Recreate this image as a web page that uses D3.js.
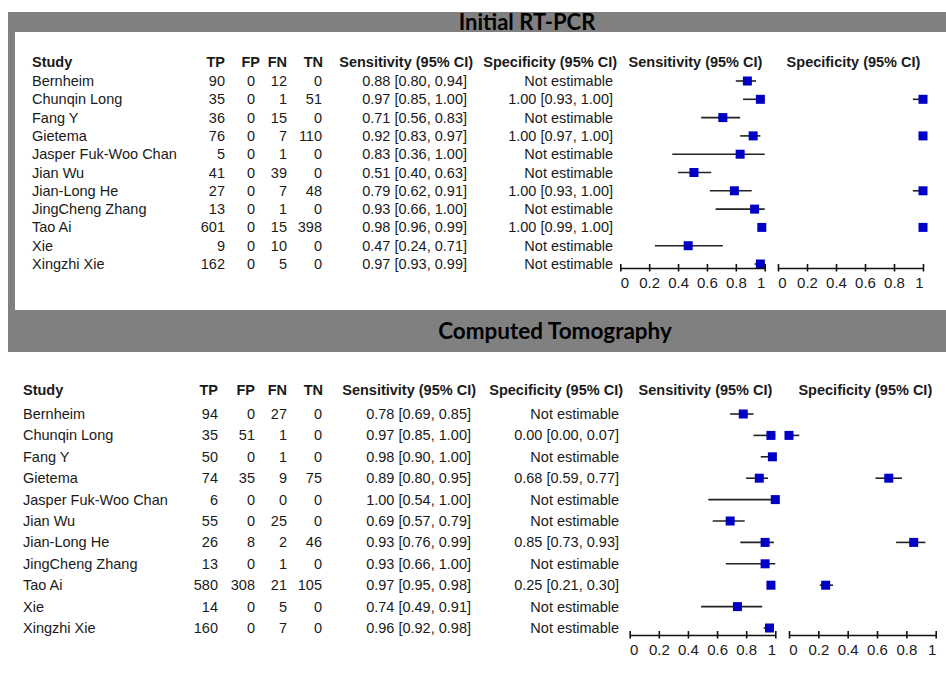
<!DOCTYPE html>
<html>
<head>
<meta charset="utf-8">
<script src="https://cdn.jsdelivr.net/npm/d3@7"></script>
<style>
  body { margin: 0; background: #fff; }
  text { font-family: "Liberation Sans", Arial, sans-serif; fill: #1a1a1a; }
  .head { font-weight: bold; }
  .title { font-family: Lato, "Open Sans", sans-serif; font-weight: bold; fill: #000; }
</style>
</head>
<body>
<div id="chart"></div>
<script>
const width = 946, height = 684;

// studies (same for both panels)
const studies = ["Bernheim", "Chunqin Long", "Fang Y", "Gietema", "Jasper Fuk-Woo Chan", "Jian Wu",
  "Jian-Long He", "JingCheng Zhang", "Tao Ai", "Xie", "Xingzhi Xie"];

const headers = ["TP", "FP", "FN", "TN", "Sensitivity (95% CI)", "Specificity (95% CI)"];
const tickVals = [0, 0.2, 0.4, 0.6, 0.8, 1];

// Initial RT-PCR
const pcrTP = [90, 35, 36, 76, 5, 41, 27, 13, 601, 9, 162];
const pcrFP = [0, 0, 0, 0, 0, 0, 0, 0, 0, 0, 0];
const pcrFN = [12, 1, 15, 7, 1, 39, 7, 1, 15, 10, 5];
const pcrTN = [0, 51, 0, 110, 0, 0, 48, 0, 398, 0, 0];
const pcrSens = [[0.88, 0.80, 0.94], [0.97, 0.85, 1.00], [0.71, 0.56, 0.83], [0.92, 0.83, 0.97],
  [0.83, 0.36, 1.00], [0.51, 0.40, 0.63], [0.79, 0.62, 0.91], [0.93, 0.66, 1.00],
  [0.98, 0.96, 0.99], [0.47, 0.24, 0.71], [0.97, 0.93, 0.99]];
const pcrSpec = [null, [1.00, 0.93, 1.00], null, [1.00, 0.97, 1.00], null, null,
  [1.00, 0.93, 1.00], null, [1.00, 0.99, 1.00], null, null];

// Computed Tomography
const ctTP = [94, 35, 50, 74, 6, 55, 26, 13, 580, 14, 160];
const ctFP = [0, 51, 0, 35, 0, 0, 8, 0, 308, 0, 0];
const ctFN = [27, 1, 1, 9, 0, 25, 2, 1, 21, 5, 7];
const ctTN = [0, 0, 0, 75, 0, 0, 46, 0, 105, 0, 0];
const ctSens = [[0.78, 0.69, 0.85], [0.97, 0.85, 1.00], [0.98, 0.90, 1.00], [0.89, 0.80, 0.95],
  [1.00, 0.54, 1.00], [0.69, 0.57, 0.79], [0.93, 0.76, 0.99], [0.93, 0.66, 1.00],
  [0.97, 0.95, 0.98], [0.74, 0.49, 0.91], [0.96, 0.92, 0.98]];
const ctSpec = [null, [0.00, 0.00, 0.07], null, [0.68, 0.59, 0.77], null, null,
  [0.85, 0.73, 0.93], null, [0.25, 0.21, 0.30], null, null];

const svg = d3.select("#chart").append("svg")
  .attr("width", width)
  .attr("height", height);

// grey frame around the first panel + title bars
svg.append("rect").attr("x", 8).attr("y", 12).attr("width", width - 8).attr("height", 340).attr("fill", "#808080");
svg.append("rect").attr("x", 15).attr("y", 32).attr("width", width - 15).attr("height", 278).attr("fill", "#fff");

svg.append("text").attr("class", "title").attr("x", 527).attr("y", 30)
  .attr("text-anchor", "middle").attr("font-size", "22px").text("Initial RT-PCR");
svg.append("text").attr("class", "title").attr("x", 555).attr("y", 339)
  .attr("text-anchor", "middle").attr("font-size", "22.5px").text("Computed Tomography");

const fmt = d3.format(".2f");
const ciText = d => d ? `${fmt(d[0])} [${fmt(d[1])}, ${fmt(d[2])}]` : "Not estimable";

function drawPanel(p) {
  const g = svg.append("g");
  const y = i => p.rowY0 + i * p.rowStep;

  // header row
  g.append("text").attr("class", "head").attr("x", p.studyX).attr("y", p.headY).attr("dy", "0.35em").text("Study");
  headers.forEach((h, k) => {
    g.append("text").attr("class", "head").attr("x", p.headX[k]).attr("y", p.headY)
      .attr("dy", "0.35em").attr("text-anchor", "end").text(h);
  });
  g.append("text").attr("class", "head").attr("x", (p.ax1[0] + p.ax1[1]) / 2 + 3).attr("y", p.headY)
    .attr("dy", "0.35em").attr("text-anchor", "middle").text("Sensitivity (95% CI)");
  g.append("text").attr("class", "head").attr("x", (p.ax2[0] + p.ax2[1]) / 2 + 3).attr("y", p.headY)
    .attr("dy", "0.35em").attr("text-anchor", "middle").text("Specificity (95% CI)");

  // table
  const cols = [p.tp, p.fp, p.fn, p.tn, p.sens.map(ciText), p.spec.map(ciText)];
  g.selectAll(".study").data(studies).enter().append("text")
    .attr("x", p.studyX).attr("y", (d, i) => y(i)).attr("dy", "0.35em").text(d => d);
  cols.forEach((col, k) => {
    g.append("g").selectAll("text").data(col).enter().append("text")
      .attr("x", p.colX[k]).attr("y", (d, i) => y(i)).attr("dy", "0.35em")
      .attr("text-anchor", "end").text(d => d);
  });

  // forest plots
  [[p.sens, p.ax1], [p.spec, p.ax2]].forEach(([vals, range]) => {
    const x = d3.scaleLinear().domain([0, 1]).range(range);
    const pts = vals.map((d, i) => ({ d, i })).filter(o => o.d);
    g.append("g").selectAll("line").data(pts).enter().append("line")
      .attr("x1", o => x(o.d[1])).attr("x2", o => x(o.d[2]))
      .attr("y1", o => y(o.i)).attr("y2", o => y(o.i))
      .attr("stroke", "#222").attr("stroke-width", 1.6);
    g.append("g").selectAll("rect").data(pts).enter().append("rect")
      .attr("x", o => x(o.d[0]) - 4.5).attr("y", o => y(o.i) - 4.5)
      .attr("width", 9).attr("height", 9).attr("fill", "#0000c4");

    const ax = g.append("g").attr("transform", `translate(0, ${p.axisY})`)
      .call(d3.axisBottom(x).tickValues(tickVals).tickFormat(d3.format("~g")).tickSizeOuter(0));
    ax.select(".domain").attr("stroke", "#111").attr("stroke-width", 1.6);
    ax.selectAll(".tick line").attr("y1", -4).attr("y2", 3.5).attr("stroke", "#111").attr("stroke-width", 1.6);
    ax.selectAll(".tick text").attr("y", 14.5).attr("dy", "0.35em")
      .attr("x", d => d === 0 ? 4 : d === 1 ? -4 : 0)
      .attr("font-family", null).attr("fill", "#1a1a1a").classed("tick-label", true);
  });
}

drawPanel({
  rowY0: 81, rowStep: 18.3, headY: 62, studyX: 32,
  headX: [225, 260, 287, 323, 473, 617],
  colX: [225, 255, 287, 322, 467, 613],
  ax1: [620.3, 764.7], ax2: [778, 923], axisY: 268,
  tp: pcrTP, fp: pcrFP, fn: pcrFN, tn: pcrTN, sens: pcrSens, spec: pcrSpec
});

drawPanel({
  rowY0: 414, rowStep: 21.4, headY: 390, studyX: 23,
  headX: [218, 255, 287, 323, 476, 623],
  colX: [218, 255, 287, 322, 471, 619],
  ax1: [629.7, 775.3], ax2: [789, 935.7], axisY: 635,
  tp: ctTP, fp: ctFP, fn: ctFN, tn: ctTN, sens: ctSens, spec: ctSpec
});

svg.selectAll("text:not(.title)").attr("font-size", "14.5px");
svg.selectAll("text.tick-label").attr("font-size", "15px");
</script>
</body>
</html>
